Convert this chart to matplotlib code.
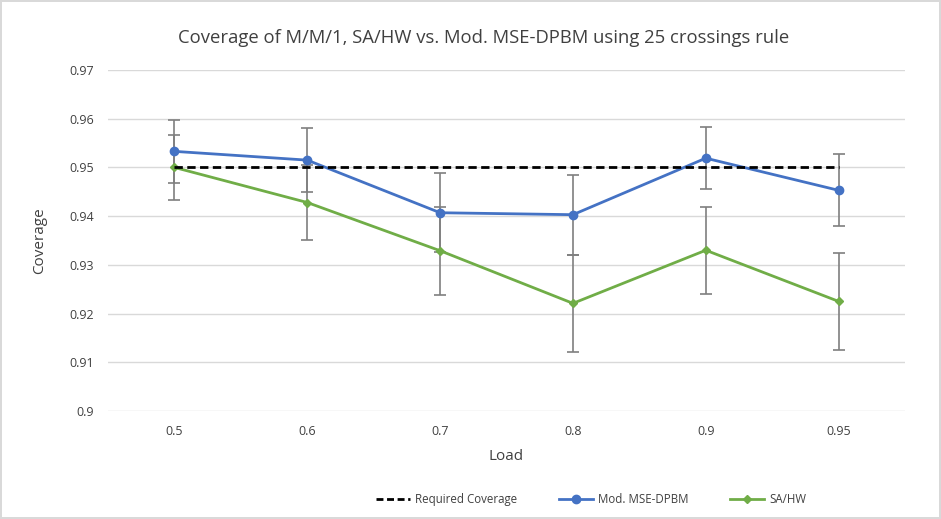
import numpy as np
import matplotlib.pyplot as plt
from matplotlib.lines import Line2D

loads = ["0.5", "0.6", "0.7", "0.8", "0.9", "0.95"]
required = [0.95, 0.95, 0.95, 0.95, 0.95, 0.95]
mse_dpbm = [0.9533, 0.9515, 0.9407, 0.9403, 0.9519, 0.9453]
mse_err = [0.0064, 0.0065, 0.0081, 0.0082, 0.0064, 0.0074]
sahw = [0.9500, 0.9428, 0.9329, 0.9221, 0.9330, 0.9225]
sahw_err = [0.0067, 0.0076, 0.0090, 0.0100, 0.0089, 0.0100]
yticks = [0.9, 0.91, 0.92, 0.93, 0.94, 0.95, 0.96, 0.97]

plt.rcParams['font.family'] = ['Open Sans', 'DejaVu Sans']

fig = plt.figure(figsize=(9.41, 5.19), dpi=100)
fig.patch.set_edgecolor('#d9d9d9')
fig.patch.set_linewidth(1.5)
ax = fig.add_axes([0.1148, 0.2081, 0.847, 0.657])

x = np.arange(len(loads))
blue = '#4472C4'
green = '#70AD47'
errc = '#7f7f7f'

ax.plot(x, required, color='black', linestyle=(0, (3, 1.6)), lw=2, zorder=4)
ax.errorbar(x, mse_dpbm, yerr=mse_err, color=blue, lw=2, marker='o', ms=6,
            ecolor=errc, elinewidth=1.2, capsize=4, capthick=1.2, zorder=3)
ax.errorbar(x, sahw, yerr=sahw_err, color=green, lw=2, marker='D', ms=4,
            ecolor=errc, elinewidth=1.2, capsize=4, capthick=1.2, zorder=3)

ax.set_xlim(-0.5, len(loads) - 0.5)
ax.set_ylim(0.9, 0.97)
ax.set_xticks(x)
ax.set_xticklabels(loads)
ax.set_yticks(yticks)
ax.set_yticklabels([f"{v:g}" for v in yticks])
ax.tick_params(length=0, labelsize=9, colors='#404040', pad=10)
ax.grid(axis='y', color='#d9d9d9', lw=1)
ax.set_axisbelow(True)
for s in ax.spines.values():
    s.set_visible(False)

ax.set_xlabel("Load", fontsize=11, color='#404040', labelpad=8)
ax.set_ylabel("Coverage", fontsize=11, color='#404040', labelpad=16)
fig.text(0.514, 0.927, "Coverage of M/M/1, SA/HW vs. Mod. MSE-DPBM using 25 crossings rule",
         ha='center', va='center', fontsize=13.3, color='#404040')

handles = [
    Line2D([], [], color='black', linestyle=(0, (2.5, 1.3)), lw=2),
    Line2D([], [], color=blue, lw=2, marker='o', ms=6),
    Line2D([], [], color=green, lw=2, marker='D', ms=4),
]
fig.legend(handles, ["Required Coverage", "Mod. MSE-DPBM", "SA/HW"], loc='center',
           bbox_to_anchor=(0.628, 0.037), ncol=3, frameon=False, fontsize=8.3,
           columnspacing=3.6, handlelength=3.0, handletextpad=0.4,
           labelcolor='#404040')

fig.savefig("out.png", dpi=100)
